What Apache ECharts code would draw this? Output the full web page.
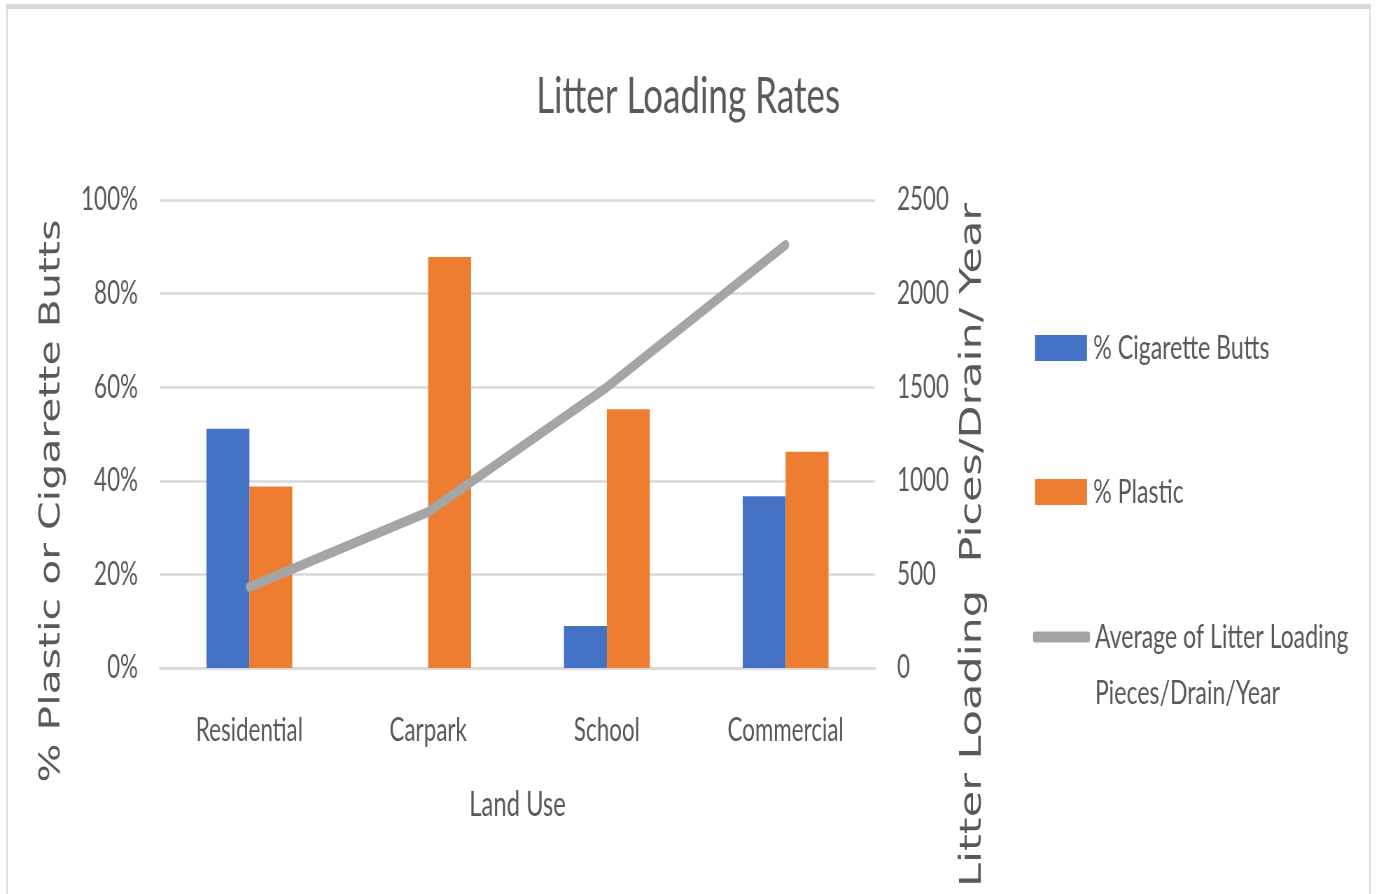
<!DOCTYPE html>
<html><head><meta charset="utf-8">
<script src="https://cdn.jsdelivr.net/npm/echarts@6/dist/echarts.min.js"></script>
<style>
html,body{margin:0;padding:0;background:#fff;overflow:hidden;width:1376px;height:894px;}
#chart{width:1966px;height:894px;transform:scaleX(0.7);transform-origin:0 0;}
</style></head><body><div id="chart"></div>
<script>
const categories = ['Residential', 'Carpark', 'School', 'Commercial'];
const cigaretteButts = [51.1, 0, 9.0, 36.7];
const plastic = [38.8, 87.8, 55.3, 46.2];
const litterLoading = [433, 833, 1500, 2260];
const leftTicks = { min: 0, max: 100, interval: 20 };
const rightTicks = { min: 0, max: 2500, interval: 500 };
const seriesNames = ['% Cigarette Butts', '% Plastic', 'Average of Litter Loading Pieces/Drain/Year'];

const SX = 0.7;                 // the reference is horizontally squeezed
const X = v => v / SX;          // real pixel x -> chart x
const W = 1966, H = 894;
const FONT = 'Lato, "Open Sans", sans-serif';
const TXT = '#595959';
const GRID = '#D9D9D9';

const chart = echarts.init(document.getElementById('chart'), null, { width: W, height: H });
chart.setOption({
  animation: false,
  backgroundColor: '#ffffff',
  title: {
    text: 'Litter Loading Rates', left: 'center', top: 67,
    textStyle: { fontFamily: FONT, fontSize: 50, fontWeight: 'normal', color: TXT }
  },
  grid: { left: X(160), right: W - X(875), top: 200, bottom: H - 668 },
  legend: [
    {
      orient: 'vertical', left: X(1035), top: 328, padding: 0,
      itemWidth: X(52), itemHeight: 26, itemGap: 104, icon: 'rect',
      data: [seriesNames[0], seriesNames[1]],
      textStyle: { fontFamily: FONT, fontSize: 33, color: TXT, lineHeight: 40, padding: [0, 0, 0, 4] }
    },
    {
      orient: 'vertical', left: X(1033), top: 637 - 84, padding: 0,
      itemWidth: X(57), itemHeight: 11, icon: 'roundRect',
      data: [seriesNames[2]],
      formatter: () => '\nAverage of Litter Loading\nPieces/Drain/Year',
      textStyle: { fontFamily: FONT, fontSize: 33, color: TXT, lineHeight: 56, padding: [0, 0, 0, 2] }
    }
  ],
  xAxis: {
    type: 'category', data: categories,
    axisLine: { lineStyle: { color: GRID, width: 2.5 } },
    axisTick: { show: false },
    axisLabel: { margin: 47, fontFamily: FONT, fontSize: 32, color: TXT },
    name: 'Land Use', nameLocation: 'middle', nameGap: 120,
    nameTextStyle: { fontFamily: FONT, fontSize: 34, color: TXT }
  },
  yAxis: [
    {
      type: 'value', min: leftTicks.min, max: leftTicks.max, interval: leftTicks.interval,
      axisLine: { show: false }, axisTick: { show: false },
      axisLabel: { formatter: '{value}%', margin: X(22), fontFamily: FONT, fontSize: 32, color: TXT },
      splitLine: { lineStyle: { color: GRID, width: 2.5 } }
    },
    {
      type: 'value', min: rightTicks.min, max: rightTicks.max, interval: rightTicks.interval,
      axisLine: { show: false }, axisTick: { show: false },
      axisLabel: { formatter: v => String(v), margin: X(22), fontFamily: FONT, fontSize: 32, color: TXT },
      splitLine: { show: false }
    }
  ],
  series: [
    { name: seriesNames[0], type: 'bar', data: cigaretteButts, color: '#4472C4', barWidth: '24%', barGap: '0%' },
    { name: seriesNames[1], type: 'bar', data: plastic, color: '#ED7D31', barWidth: '24%', barGap: '0%' },
    {
      name: seriesNames[2], type: 'line', yAxisIndex: 1, data: litterLoading,
      symbol: 'none', color: '#A5A5A5',
      lineStyle: { width: 10, color: '#A5A5A5', cap: 'round', join: 'round' }
    }
  ],
  graphic: [
    { type: 'rect', silent: true, shape: { x: X(7), y: 7, width: X(1370) - X(7), height: 900 },
      style: { fill: 'none', stroke: GRID, lineWidth: 2 } },
    { type: 'rect', silent: true, shape: { x: X(6), y: 4, width: X(1371) - X(6), height: 5 },
      style: { fill: GRID } },
    { type: 'text', silent: true, x: X(52), y: 501, rotation: Math.PI / 2,
      style: { text: '% Plastic or Cigarette Butts', font: '41px "DejaVu Sans"', fill: TXT, align: 'center', verticalAlign: 'middle' } },
    { type: 'text', silent: true, x: X(973), y: 545, rotation: Math.PI / 2,
      style: { text: 'Litter Loading  Pices/Drain/ Year', font: '43px "DejaVu Sans"', fill: TXT, align: 'center', verticalAlign: 'middle' } }
  ]
});
</script></body></html>
